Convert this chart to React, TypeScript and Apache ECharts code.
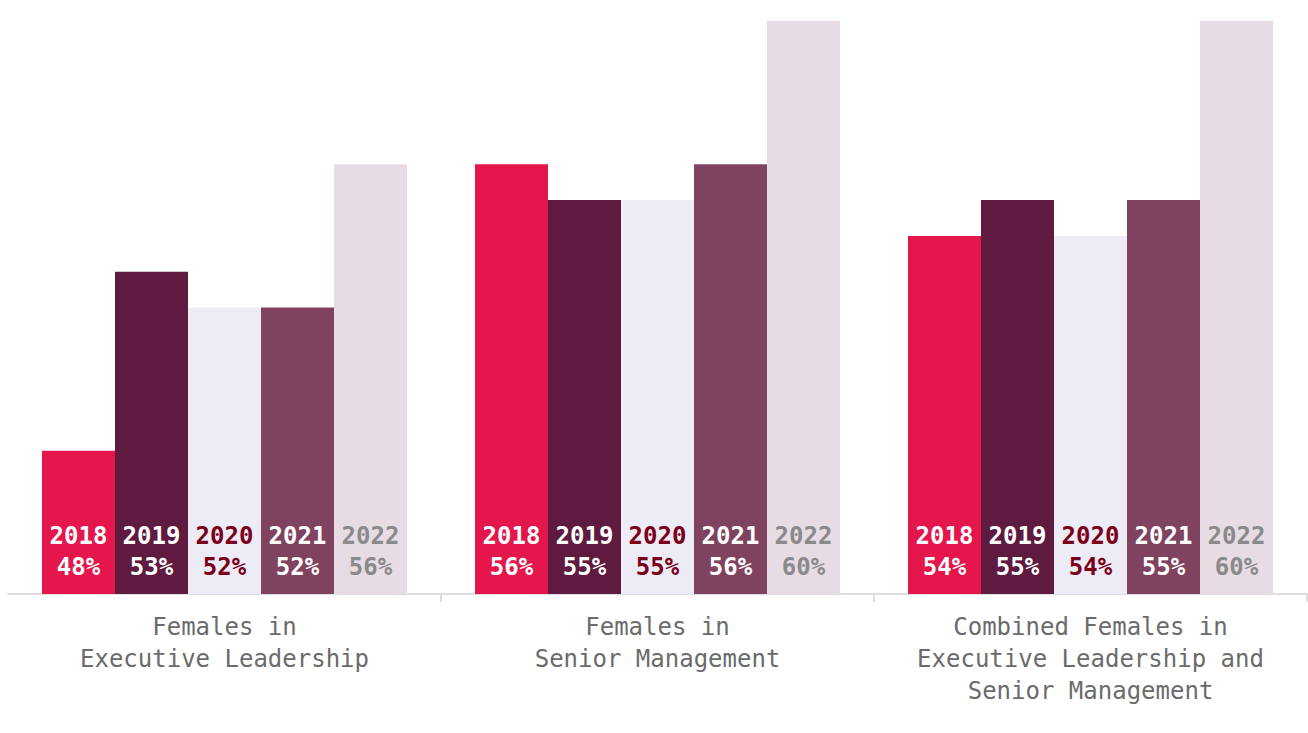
import React, { useEffect, useRef } from "react";
import * as echarts from "echarts";

const categories = [
  "Females in\nExecutive Leadership",
  "Females in\nSenior Management",
  "Combined Females in\nExecutive Leadership and\nSenior Management",
];
const years = ["2018", "2019", "2020", "2021", "2022"];
const values2018 = [48, 56, 54];
const values2019 = [53, 55, 55];
const values2020 = [52, 55, 54];
const values2021 = [52, 56, 55];
const values2022 = [56, 60, 60];
const seriesValues = [values2018, values2019, values2020, values2021, values2022];
const barColors = ["#e5164b", "#5f1a3f", "#edebf5", "#80435f", "#e8dce4"];
const labelColors = ["#ffffff", "#ffffff", "#7a0019", "#ffffff", "#8a8a8a"];
const FONT = "'DejaVu Sans Mono', monospace";

export default function App() {
  const ref = useRef<HTMLDivElement>(null);
  useEffect(() => {
    const chart = echarts.init(ref.current!, undefined, { renderer: "svg" });
    chart.setOption({
      animation: false,
      grid: { left: 8, right: 1, top: 21, bottom: 139, containLabel: false },
      xAxis: {
        type: "category",
        data: categories,
        axisLine: { show: true, lineStyle: { color: "#dedede", width: 2 } },
        axisTick: {
          show: true,
          length: 8,
          lineStyle: { color: "#dedede", width: 2 },
          interval: (index: number) => index !== 0,
        },
        axisLabel: {
          margin: 17,
          fontFamily: FONT,
          fontSize: 24,
          lineHeight: 32,
          color: "#6b6b6b",
          interval: 0,
        },
      },
      yAxis: { type: "value", min: 44, max: 60, show: false, splitLine: { show: false } },
      series: years.map((y, i) => ({
        name: y,
        type: "bar",
        data: seriesValues[i],
        barGap: "0%",
        barCategoryGap: "15.7%",
        itemStyle: { color: barColors[i] },
        label: {
          show: true,
          position: "insideBottom",
          distance: 12,
          formatter: (p: any) => `${p.seriesName}\n${p.value}%`,
          fontFamily: FONT,
          fontWeight: "bold",
          fontSize: 24,
          lineHeight: 31,
          color: labelColors[i],
        },
      })),
    });
    return () => chart.dispose();
  }, []);
  return (
    <div
      ref={ref}
      style={{ position: "absolute", left: 0, top: 0, width: 1308, height: 733, background: "#fff" }}
    />
  );
}
